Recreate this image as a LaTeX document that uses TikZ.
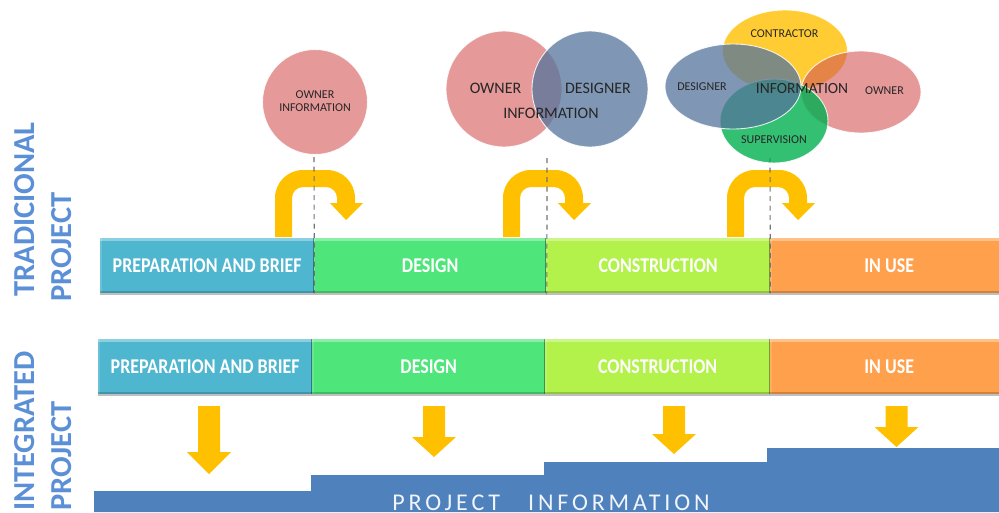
\documentclass[tikz,border=0pt]{standalone}
\usepackage{fontspec}
\setmainfont{Carlito}
\newfontfamily\barfont[FakeStretch=0.855]{Carlito}
\newfontfamily\spacedfont[LetterSpace=16]{Carlito}
\usetikzlibrary{shadows,shapes.geometric}
\definecolor{cPrep}{HTML}{4FB6D0}
\definecolor{cDesign}{HTML}{4EE57A}
\definecolor{cCons}{HTML}{B2F24A}
\definecolor{cUse}{HTML}{FFA04C}
\definecolor{cGold}{HTML}{FFC000}
\definecolor{cStep}{HTML}{4F81BD}
\definecolor{cHead}{HTML}{5B8FD6}
\definecolor{cOwner}{HTML}{D45555}
\definecolor{cDesigner}{HTML}{54749C}
\definecolor{cSuper}{HTML}{00B050}
\tikzset{
  barbox/.style={rectangle,anchor=north west,inner sep=0pt,minimum height=55pt,text=white,
    font=\barfont\bfseries\fontsize{21}{21}\selectfont,
    drop shadow={shadow xshift=0pt,shadow yshift=-1.5pt,opacity=.5},
    path picture={
      \fill[white,opacity=.35] (path picture bounding box.north west) rectangle ([yshift=-3pt]path picture bounding box.north east);
      \fill[white,opacity=.15] (path picture bounding box.north west) rectangle ([xshift=1.5pt]path picture bounding box.south west);
      \fill[black,opacity=.18] (path picture bounding box.south west) rectangle ([yshift=2.5pt]path picture bounding box.south east);
      \fill[black,opacity=.35] (path picture bounding box.north east) rectangle ([xshift=-1.5pt]path picture bounding box.south east);
    }},
  bubble/.style={ellipse,draw=white,line width=.9pt,inner sep=0pt,fill opacity=.75,draw opacity=.85},
  ownerbubble/.style={bubble,fill=cOwner,fill opacity=.6},
  bubbletext/.style={text=black!85,align=center,inner sep=0pt},
  headtext/.style={rotate=90,anchor=east,text=cHead,inner sep=0pt,font=\bfseries\fontsize{30.5}{30.5}\selectfont},
  guide/.style={draw=black!55,line width=1.1pt,dash pattern=on 5pt off 4.5pt},
  gold/.style={fill=cGold,draw=none},
}
% U-turn arrow: #1 = left outer x
\newcommand{\uturn}[1]{%
  \fill[gold,shift={(#1,0)}] (0,237) [rounded corners=28pt] -- (0,170) -- (80,170) [sharp corners] -- (80,203) -- (88,203) -- (71,220) -- (55,203) -- (62,203)
    [rounded corners=11pt] -- (62,187) -- (17,187) [sharp corners] -- (17,237) -- cycle;}
% down arrow: #1 centre x, #2 shaft end y, #3 tip y
\newcommand{\dnarrow}[3]{%
  \fill[gold] (#1-11,406) -- (#1+11,406) -- (#1+11,#2) -- (#1+22,#2) -- (#1,#3) -- (#1-22,#2) -- (#1-11,#2) -- cycle;}
\begin{document}
\begin{tikzpicture}[x=1pt,y=-1pt]
\useasboundingbox (0,0) rectangle (999,512);
\clip (0,0) rectangle (999,512);
% guides endpoints
\coordinate (g1a) at (314,157); \coordinate (g2a) at (547,158); \coordinate (g3a) at (770,158);
% U-turn arrows
\uturn{275}
\uturn{503}
\uturn{727}
% traditional bars
\node[barbox,fill=cPrep,minimum width=214pt] (t1) at (100,238) {PREPARATION AND BRIEF};
\node[barbox,fill=cDesign,minimum width=233pt] (t2) at (313.5,238) {DESIGN};
\node[barbox,fill=cCons,minimum width=224pt] (t3) at (546,238) {CONSTRUCTION};
\node[barbox,fill=cUse,minimum width=238pt] (t4) at (770,238) {IN USE};
% integrated bars
\node[barbox,fill=cPrep,minimum width=214pt] (i1) at (98,339) {PREPARATION AND BRIEF};
\node[barbox,fill=cDesign,minimum width=233pt] (i2) at (312,339) {DESIGN};
\node[barbox,fill=cCons,minimum width=225pt] (i3) at (545,339) {CONSTRUCTION};
\node[barbox,fill=cUse,minimum width=238pt] (i4) at (770,339) {IN USE};
% guides
\draw[guide] (g1a) -- (t1.south east);
\draw[guide] (g2a) -- (t2.south east);
\draw[guide] (g3a) -- (t3.south east);
% first bubble
\node[ownerbubble,minimum width=105pt,minimum height=105pt] (o1) at (315,102) {};
\node[bubbletext,font=\fontsize{12}{13}\selectfont] (o1t) at (315,101) {OWNER\\INFORMATION};
% second bubbles
\node[ownerbubble,minimum width=116pt,minimum height=116pt] (o2) at (504,89) {};
\node[bubble,fill=cDesigner,minimum width=116pt,minimum height=116pt] (d2) at (590,89) {};
\node[bubbletext,font=\fontsize{16}{16}\selectfont] (o2t) at (495.5,88.5) {OWNER};
\node[bubbletext,font=\fontsize{16}{16}\selectfont] (d2t) at (598,88.5) {DESIGNER};
\node[bubbletext,font=\fontsize{16}{16}\selectfont] (i2t) at (551,113) {INFORMATION};
% third bubbles
\node[bubble,fill=cGold,fill opacity=.8,minimum width=125pt,minimum height=82pt] (c3) at (785,51) {};
\node[ownerbubble,minimum width=120pt,minimum height=82pt] (o3) at (861,92) {};
\node[bubble,fill=cSuper,fill opacity=.8,minimum width=108pt,minimum height=84pt] (s3) at (774,121) {};
\node[bubble,fill=cDesigner,minimum width=136pt,minimum height=85pt] (d3) at (733,86.5) {};
\node[bubbletext,font=\fontsize{12}{12}\selectfont] (c3t) at (784.5,34) {CONTRACTOR};
\node[bubbletext,font=\fontsize{12}{12}\selectfont] (o3t) at (884.5,91) {OWNER};
\node[bubbletext,font=\fontsize{12}{12}\selectfont] (s3t) at (774,140) {SUPERVISION};
\node[bubbletext,font=\fontsize{12}{12}\selectfont] (d3t) at (702,87) {DESIGNER};
\node[bubbletext,font=\fontsize{15.5}{16}\selectfont] (i3t) at (802,88.5) {INFORMATION};
% side headings
\node[headtext] (h1) at (25,122) {TRADICIONAL};
\node[headtext] (h2) at (62,192) {PROJECT};
\node[headtext] (h3) at (25,351) {INTEGRATED};
\node[headtext] (h4) at (62,401) {PROJECT};
% steps
\fill[cStep] (94,512) -- (94,491) -- (311,491) -- (311,475) -- (544,475) -- (544,462) -- (767,462) -- (767,448) -- (999,448) -- (999,512) -- cycle;
\node[text=white!92!cStep,inner sep=0pt,font=\spacedfont\fontsize{24}{24}\selectfont,anchor=base] (pi) at (551,510.5) {PROJECT\hspace{19pt} INFORMATION};
% down arrows
\dnarrow{209}{452}{474}
\dnarrow{434}{437}{457}
\dnarrow{674}{434}{454}
\dnarrow{896.5}{427}{447}
\end{tikzpicture}
\end{document}
